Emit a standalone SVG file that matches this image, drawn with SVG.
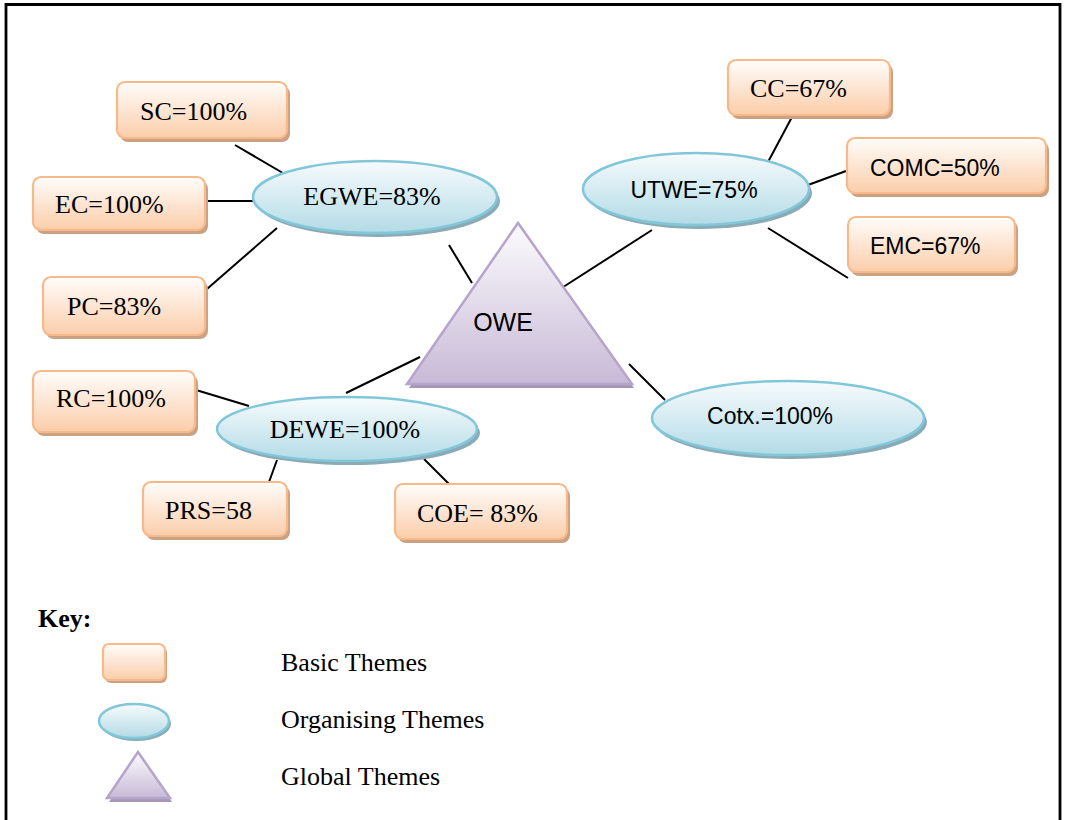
<svg xmlns="http://www.w3.org/2000/svg" width="1067" height="820" viewBox="0 0 1067 820">
<defs>
<linearGradient id="gBox" x1="0" y1="0" x2="0" y2="1"><stop offset="0" stop-color="#fffdfb"/><stop offset="1" stop-color="#fbcdaa"/></linearGradient>
<linearGradient id="gEll" x1="0" y1="0" x2="0" y2="1"><stop offset="0" stop-color="#f7fbfd"/><stop offset="1" stop-color="#b3dbe6"/></linearGradient>
<linearGradient id="gTri" x1="0" y1="0" x2="0" y2="1"><stop offset="0" stop-color="#fcfbfd"/><stop offset="1" stop-color="#c8bad7"/></linearGradient>
<style>
.bx{fill:url(#gBox);stroke:#f8b98a;stroke-width:2.2}
.bxs{fill:#caa183}
.el{fill:url(#gEll);stroke:#82c7d9;stroke-width:2.5}
.els{fill:#8aabb6}
.tr{fill:url(#gTri);stroke:#b6a4cb;stroke-width:2.5;stroke-linejoin:miter}
.trs{fill:#a596b6}
.ser{font-family:"Liberation Serif","Times New Roman",serif;font-size:26px;fill:#000}
.san{font-family:"Liberation Sans",Arial,sans-serif;font-size:23px;fill:#000}
.con line{stroke:#000;stroke-width:2}
</style>
</defs>
<rect width="1067" height="820" fill="#fff"/>
<path d="M6,830 V4.5 H1060 V830" fill="none" stroke="#000" stroke-width="2.8"/>

<g id="connectors" class="con">
<line x1="235" y1="145" x2="288" y2="176"/>
<line x1="205" y1="201" x2="254" y2="201"/>
<line x1="207" y1="289" x2="277" y2="228"/>
<line x1="449" y1="245" x2="472" y2="283"/>
<line x1="557" y1="291" x2="652" y2="230"/>
<line x1="792" y1="117" x2="768" y2="162"/>
<line x1="846" y1="171" x2="808" y2="185"/>
<line x1="768" y1="228" x2="848" y2="278"/>
<line x1="629" y1="364" x2="665" y2="400"/>
<line x1="420" y1="357" x2="346" y2="393"/>
<line x1="196" y1="390" x2="249" y2="406"/>
<line x1="277" y1="460" x2="269" y2="482"/>
<line x1="424" y1="459" x2="449" y2="484"/>
</g>

<g id="node-SC"><rect class="bxs" x="120" y="86" width="170" height="56" rx="8"/><rect class="bx" x="117" y="82" width="170" height="56" rx="8"/><text class="ser" x="140" y="120">SC=100%</text></g>
<g id="node-EC"><rect class="bxs" x="36" y="181" width="172" height="53" rx="8"/><rect class="bx" x="33" y="177" width="172" height="53" rx="8"/><text class="ser" x="55" y="213">EC=100%</text></g>
<g id="node-PC"><rect class="bxs" x="46" y="281" width="162" height="58" rx="8"/><rect class="bx" x="43" y="277" width="162" height="58" rx="8"/><text class="ser" x="67" y="315">PC=83%</text></g>
<g id="node-RC"><rect class="bxs" x="36" y="375" width="162" height="61" rx="8"/><rect class="bx" x="33" y="371" width="162" height="61" rx="8"/><text class="ser" x="56" y="407">RC=100%</text></g>
<g id="node-PRS"><rect class="bxs" x="146" y="486" width="144" height="54" rx="8"/><rect class="bx" x="143" y="482" width="144" height="54" rx="8"/><text class="ser" x="165" y="519">PRS=58</text></g>
<g id="node-COE"><rect class="bxs" x="398" y="488" width="172" height="55" rx="8"/><rect class="bx" x="395" y="484" width="172" height="55" rx="8"/><text class="ser" x="417" y="522">COE= 83%</text></g>
<g id="node-CC"><rect class="bxs" x="731" y="64" width="162" height="55" rx="8"/><rect class="bx" x="728" y="60" width="162" height="55" rx="8"/><text class="ser" x="750" y="97">CC=67%</text></g>
<g id="node-COMC"><rect class="bxs" x="850" y="142" width="199" height="55" rx="8"/><rect class="bx" x="847" y="138" width="199" height="55" rx="8"/><text class="san" x="870" y="176">COMC=50%</text></g>
<g id="node-EMC"><rect class="bxs" x="851" y="221" width="167" height="55" rx="8"/><rect class="bx" x="848" y="217" width="167" height="55" rx="8"/><text class="san" x="870" y="254">EMC=67%</text></g>

<g id="node-EGWE"><ellipse class="els" cx="378" cy="201" rx="122" ry="36"/><ellipse class="el" cx="375" cy="197" rx="122" ry="36"/><text class="ser" x="372" y="205" text-anchor="middle">EGWE=83%</text></g>
<g id="node-UTWE"><ellipse class="els" cx="699" cy="193" rx="113" ry="36"/><ellipse class="el" cx="696" cy="189" rx="113" ry="36"/><text class="san" x="694" y="198" text-anchor="middle">UTWE=75%</text></g>
<g id="node-DEWE"><ellipse class="els" cx="350" cy="433" rx="130" ry="32"/><ellipse class="el" cx="347" cy="429" rx="130" ry="32"/><text class="ser" x="345" y="438" text-anchor="middle">DEWE=100%</text></g>
<g id="node-Cotx"><ellipse class="els" cx="791" cy="422" rx="136" ry="37"/><ellipse class="el" cx="788" cy="418" rx="136" ry="37"/><text class="san" x="770" y="424" text-anchor="middle">Cotx.=100%</text></g>

<g id="node-OWE"><polygon class="trs" points="520,227 409,388 634,388"/><polygon class="tr" points="518,223 407,384 632,384"/><text class="san" x="503" y="331" text-anchor="middle" style="font-size:25px">OWE</text></g>

<g id="key">
<text x="38" y="627" style="font-family:'Liberation Serif','Times New Roman',serif;font-size:26px;font-weight:bold">Key:</text>
<g id="key-basic"><rect class="bxs" x="105" y="647" width="62" height="36" rx="6"/><rect class="bx" x="103" y="644" width="62" height="36" rx="6"/><text class="ser" x="281" y="671">Basic Themes</text></g>
<g id="key-org"><ellipse class="els" cx="136" cy="724" rx="35" ry="17"/><ellipse class="el" cx="134" cy="721" rx="35" ry="17"/><text class="ser" x="281" y="728">Organising Themes</text></g>
<g id="key-global"><polygon class="trs" points="140,756 109,802 172,802"/><polygon class="tr" points="138,752 107,798 170,798"/><text class="ser" x="281" y="785">Global Themes</text></g>
</g>
</svg>
